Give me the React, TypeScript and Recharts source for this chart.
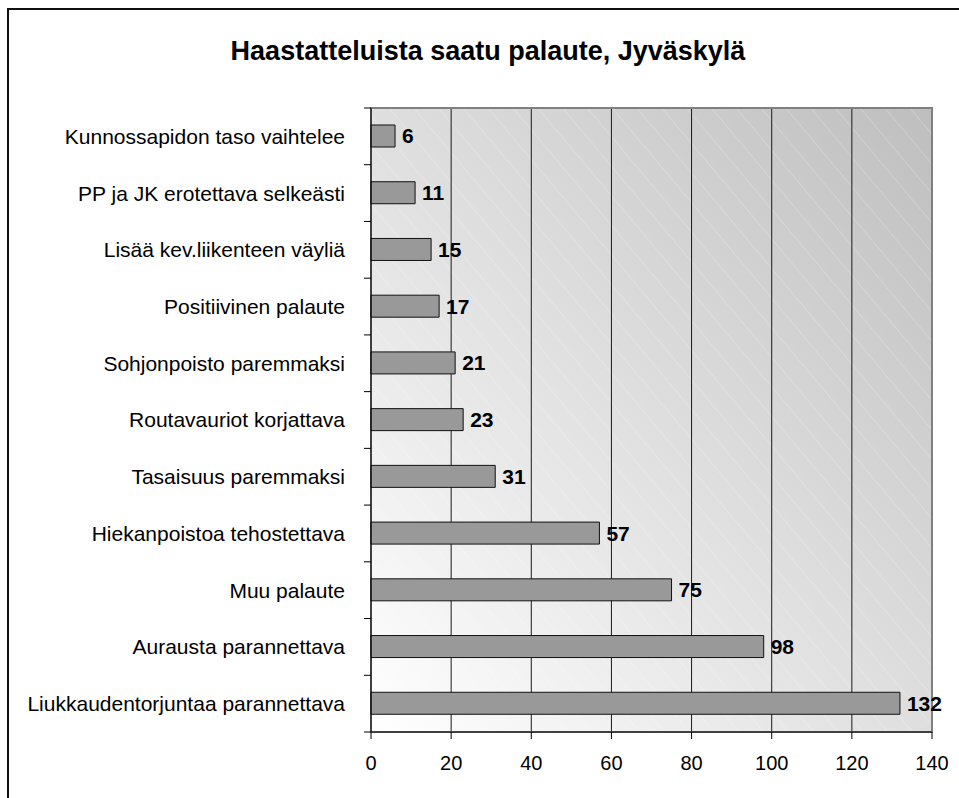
import React from "react";
import {
  BarChart,
  Bar,
  XAxis,
  YAxis,
  CartesianGrid,
  LabelList,
  ReferenceArea,
} from "recharts";

const categories = [
  "Kunnossapidon taso vaihtelee",
  "PP ja JK erotettava selkeästi",
  "Lisää kev.liikenteen väyliä",
  "Positiivinen palaute",
  "Sohjonpoisto paremmaksi",
  "Routavauriot korjattava",
  "Tasaisuus paremmaksi",
  "Hiekanpoistoa tehostettava",
  "Muu palaute",
  "Aurausta parannettava",
  "Liukkaudentorjuntaa parannettava",
];
const counts = [6, 11, 15, 17, 21, 23, 31, 57, 75, 98, 132];
const xTicks = [0, 20, 40, 60, 80, 100, 120, 140];

const title = "Haastatteluista saatu palaute, Jyväskylä";
const font = '"Liberation Sans", Arial, sans-serif';

const data = categories.map((name, i) => ({ name, value: counts[i] }));

// category label plus a tick mark on the band boundary (Excel style)
function CategoryTick(props: any) {
  const { x, y, payload, index, visibleTicksCount } = props;
  const half = payload.offset ?? 0;
  const ax = x + 19;
  return (
    <g>
      <line x1={ax} x2={ax + 7} y1={y - half} y2={y - half} stroke="#000" />
      {index === visibleTicksCount - 1 && (
        <line x1={ax} x2={ax + 7} y1={y + half} y2={y + half} stroke="#000" />
      )}
      <text x={x} y={y} dy="0.355em" textAnchor="end" fontSize={21} fill="#000" fontFamily={font}>
        {payload.value}
      </text>
    </g>
  );
}

export default function App() {
  return (
    <div
      style={{
        position: "absolute",
        left: 0,
        top: 0,
        width: 959,
        height: 798,
        overflow: "hidden",
        background: "#fff",
        fontFamily: font,
      }}
    >
      <div
        style={{
          position: "absolute",
          left: 7,
          top: 8,
          width: 1000,
          height: 1000,
          borderLeft: "2px solid #111",
          borderTop: "2px solid #111",
        }}
      />
      <div
        style={{
          position: "absolute",
          left: 0,
          top: 36,
          width: 976,
          textAlign: "center",
          fontSize: 27,
          lineHeight: "30px",
          fontWeight: "bold",
          color: "#000",
        }}
      >
        {title}
      </div>
      <div style={{ position: "absolute", left: 0, top: 0 }}>
        <BarChart
          width={959}
          height={798}
          data={data}
          layout="vertical"
          margin={{ top: 108, right: 27, bottom: 26, left: 0 }}
          barSize={22}
        >
          <defs>
            <linearGradient id="plotBg" x1="0" y1="1" x2="1" y2="0">
              <stop offset="0%" stopColor="#ffffff" />
              <stop offset="100%" stopColor="#bebebe" />
            </linearGradient>
            <pattern
              id="hatch"
              width="19"
              height="10"
              patternUnits="userSpaceOnUse"
              patternTransform="rotate(-40)"
            >
              <line x1="0" y1="0" x2="0" y2="10" stroke="#ffffff" strokeOpacity={0.4} strokeWidth={1} />
            </pattern>
          </defs>
          <CartesianGrid fill="url(#plotBg)" horizontal={false} vertical={false} />
          <CartesianGrid fill="url(#hatch)" horizontal={false} stroke="#1a1a1a" strokeOpacity={1} />
          <ReferenceArea x1={0} x2={140} fill="none" stroke="#808080" strokeWidth={2} ifOverflow="visible" />
          <XAxis
            type="number"
            domain={[0, 140]}
            ticks={xTicks}
            interval={0}
            tickSize={7}
            tickMargin={17}
            axisLine={{ stroke: "#000" }}
            tickLine={{ stroke: "#000" }}
            tick={{ fontSize: 20, fill: "#000", fontFamily: font }}
            height={40}
          />
          <YAxis
            type="category"
            dataKey="name"
            width={371}
            interval={0}
            tickSize={7}
            tickMargin={19}
            tickLine={false}
            axisLine={{ stroke: "#000" }}
            tick={<CategoryTick />}
          />
          <Bar dataKey="value" fill="#999999" stroke="#111" strokeWidth={1} isAnimationActive={false}>
            <LabelList
              dataKey="value"
              position="right"
              offset={7}
              fill="#000"
              fontSize={21}
              fontWeight="bold"
              fontFamily={font}
            />
          </Bar>
        </BarChart>
      </div>
    </div>
  );
}
